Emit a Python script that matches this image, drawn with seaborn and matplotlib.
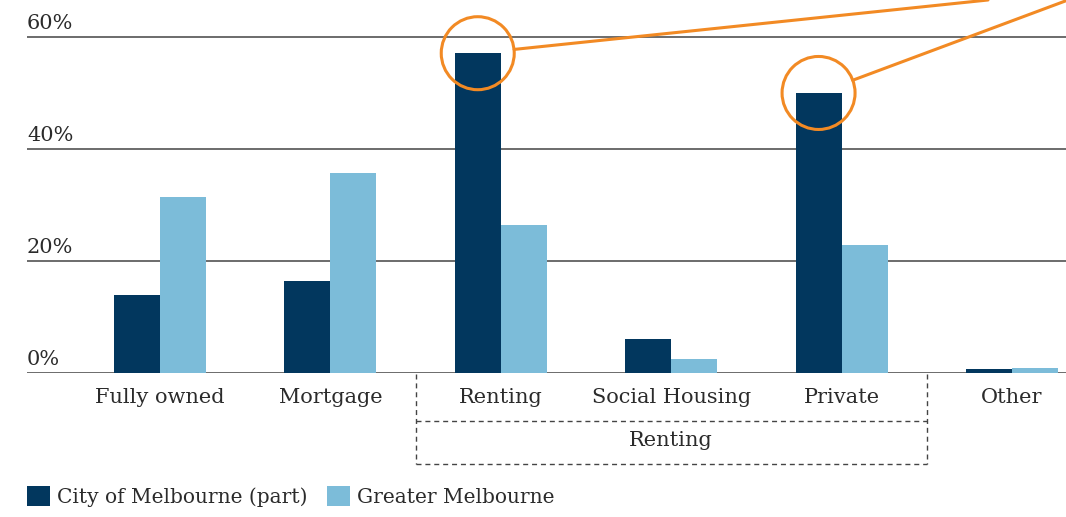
import numpy as np
import pandas as pd
import matplotlib
matplotlib.use('Agg')
import matplotlib.pyplot as plt
import matplotlib.transforms as mtransforms
from matplotlib.patches import Circle
from matplotlib.lines import Line2D
import seaborn as sns

sns.set_style('white')
plt.rcParams['font.family'] = ['DejaVu Serif']

# data (% of households)
categories = ['Fully owned', 'Mortgage', 'Renting', 'Social Housing', 'Private', 'Other']
city_pct = [13.9, 16.4, 57.1, 6.1, 50.0, 0.7]
greater_pct = [31.4, 35.7, 26.4, 2.5, 22.9, 0.9]
series_names = ['City of Melbourne (part)', 'Greater Melbourne']
series_colors = ['#02375e', '#7cbcd9']
y_ticks = [0, 20, 40, 60]
group_label = 'Renting'
group_first, group_last = 'Renting', 'Private'
highlight_cats = ['Renting', 'Private']

TXT = '#2b2b2b'
ORANGE = '#f28a24'
FS = 15

df = pd.DataFrame({
    'tenure': categories * 2,
    'series': [series_names[0]] * len(categories) + [series_names[1]] * len(categories),
    'pct': city_pct + greater_pct,
})

W, H = 1066, 517
fig = plt.figure(figsize=(W / 100, H / 100), dpi=100)
ax = fig.add_axes([27 / W, 1 - 373 / H, 1 - 27 / W, 373 / H])

sns.barplot(data=df, x='tenure', y='pct', hue='series', order=categories,
            hue_order=series_names, palette=series_colors, saturation=1,
            width=0.54, errorbar=None, linewidth=0, ax=ax)

ax.set_xlim(-0.78, 5.317)
ax.set_ylim(0, 66.6)
ax.set_xlabel('')
ax.set_ylabel('')
sns.despine(ax=ax, left=True, bottom=True, top=True, right=True)

# horizontal gridlines with labels sitting above them
ax.set_yticks(y_ticks)
ax.yaxis.grid(True, color='#6b6b6b', lw=1.4)
ax.set_axisbelow(True)
ax.tick_params(axis='y', length=0, labelleft=False)
ytrans = mtransforms.offset_copy(
    mtransforms.blended_transform_factory(ax.transAxes, ax.transData),
    fig=fig, y=6, units='points')
for v in y_ticks:
    ax.text(0, v, '{}%'.format(v), transform=ytrans, ha='left', va='baseline',
            fontsize=FS, color=TXT)

ax.tick_params(axis='x', length=0, pad=11, labelsize=FS, labelcolor=TXT)

# legend bottom-left
handles, labels = ax.get_legend_handles_labels()
ax.legend(handles, labels, loc='lower left', bbox_to_anchor=(27 / W, 10 / H),
          bbox_transform=fig.transFigure, ncol=2, frameon=False, borderaxespad=0,
          borderpad=0, handlelength=1.12, handleheight=1.12, handletextpad=0.35,
          columnspacing=1.0, fontsize=14.5, labelcolor=TXT)

# dashed bracket around the renting sub-categories
i0, i1 = categories.index(group_first), categories.index(group_last)
bt = mtransforms.blended_transform_factory(ax.transData, fig.transFigure)
y_top, y_mid, y_bot = 1 - 374 / H, 1 - 421 / H, 1 - 464 / H
dash = dict(color='#444444', lw=1.0, linestyle=(0, (3.6, 2.8)), transform=bt, clip_on=False)
for xs, ys in [((i0 - 0.5, i0 - 0.5), (y_top, y_bot)),
               ((i1 + 0.5, i1 + 0.5), (y_top, y_bot)),
               ((i0 - 0.5, i1 + 0.5), (y_mid, y_mid)),
               ((i0 - 0.5, i1 + 0.5), (y_bot, y_bot))]:
    ax.add_line(Line2D(xs, ys, **dash))
ax.text((i0 + i1) / 2, 1 - 441 / H, group_label, transform=bt, ha='center', va='center',
        fontsize=FS, color=TXT)

# orange callout circles on the City of Melbourne renting bars
px = mtransforms.IdentityTransform()
callout_ends = [(988, H), (1068, H)]
for cat, end in zip(highlight_cats, callout_ends):
    bar = ax.containers[0][categories.index(cat)]
    cx, cy = ax.transData.transform((bar.get_x() + bar.get_width() / 2, bar.get_height()))
    r = 36.5
    fig.add_artist(Circle((cx, cy), r, transform=px, fill=False, edgecolor=ORANGE, lw=2.2))
    d = np.array(end) - np.array([cx, cy])
    d = d / np.hypot(*d)
    fig.add_artist(Line2D([cx + r * d[0], end[0]], [cy + r * d[1], end[1]],
                          transform=px, color=ORANGE, lw=2.2))

fig.savefig('out.png', dpi=100)
